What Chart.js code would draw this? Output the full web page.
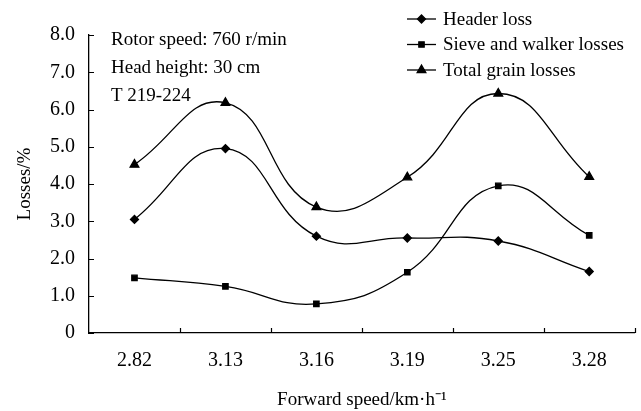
<!DOCTYPE html>
<html>
<head>
<meta charset="utf-8">
<script src="https://cdn.jsdelivr.net/npm/chart.js@4.4.0/dist/chart.umd.min.js"></script>
<style>
  html, body { margin: 0; padding: 0; background: #fff; }
  #wrap { width: 641px; height: 411px; position: relative; }
</style>
</head>
<body>
<div id="wrap"><canvas id="grafica"></canvas></div>
<script>
// datos
var speeds = ['2.82', '3.13', '3.16', '3.19', '3.25', '3.28'];
var headerLoss = [3.05, 4.95, 2.60, 2.55, 2.47, 1.65];
var sieveLoss = [1.48, 1.25, 0.78, 1.63, 3.95, 2.62];
var totalLoss = [4.52, 6.18, 3.38, 4.18, 6.43, 4.19];
var yTicks = [0, 1, 2, 3, 4, 5, 6, 7, 8];
var notes = ['Rotor speed: 760 r/min', 'Head height: 30 cm', 'T 219-224'];

var serif = '"Liberation Serif", "Times New Roman", serif';

function serie(label, data, style, radius) {
  return {
    label: label,
    data: data,
    borderColor: '#000',
    backgroundColor: '#000',
    borderWidth: 1.3,
    tension: 0.45,
    pointStyle: style,
    pointRadius: radius,
    pointHoverRadius: radius
  };
}

// ticks hacia adentro, leyenda y notas
var extras = {
  id: 'extras',
  afterDraw: function(chart) {
    var ctx = chart.ctx;
    var x = chart.scales.x, y = chart.scales.y;
    var area = chart.chartArea;
    ctx.save();
    ctx.strokeStyle = '#000';
    ctx.lineWidth = 1.2;
    ctx.beginPath();
    yTicks.forEach(function(v) {
      var py = Math.round(y.getPixelForValue(v)) + 0.5;
      ctx.moveTo(area.left, py);
      ctx.lineTo(area.left + 5, py);
    });
    for (var i = 1; i <= speeds.length; i++) {
      var px;
      if (i < speeds.length) px = (x.getPixelForValue(i - 1) + x.getPixelForValue(i)) / 2;
      else px = area.right;
      px = Math.round(px) + 0.5;
      ctx.moveTo(px, area.bottom);
      ctx.lineTo(px, area.bottom - 5);
    }
    ctx.stroke();

    // notas
    ctx.fillStyle = '#000';
    ctx.font = '19px ' + serif;
    ctx.textBaseline = 'middle';
    ctx.textAlign = 'left';
    notes.forEach(function(t, k) {
      ctx.fillText(t, 111, 40 + k * 28);
    });

    // leyenda
    chart.data.datasets.forEach(function(ds, k) {
      var ly = 19 + k * 25.5;
      ctx.beginPath();
      ctx.lineWidth = 1.3;
      ctx.moveTo(407, ly);
      ctx.lineTo(436, ly);
      ctx.stroke();
      Chart.helpers.drawPoint(ctx, { pointStyle: ds.pointStyle, radius: ds.pointRadius, borderWidth: 1 }, 421.5, ly);
      ctx.fillText(ds.label, 443, ly + 1);
    });
    ctx.restore();
  }
};

new Chart(document.getElementById('grafica').getContext('2d'), {
  type: 'line',
  data: {
    labels: speeds,
    datasets: [
      serie('Header loss', headerLoss, 'rectRot', 4),
      serie('Sieve and walker losses', sieveLoss, 'rect', 3.8),
      serie('Total grain losses', totalLoss, 'triangle', 5)
    ]
  },
  options: {
    responsive: true,
    maintainAspectRatio: false,
    animation: false,
    layout: { padding: { left: 14, right: 4, top: 35, bottom: 0 } },
    plugins: {
      legend: { display: false },
      tooltip: { enabled: false }
    },
    scales: {
      x: {
        offset: true,
        afterFit: function(s) { s.height = 78; },
        grid: { display: true, drawOnChartArea: false, drawTicks: false, offset: true, color: 'rgba(0,0,0,0)' },
        border: { display: true, color: '#000', width: 1.3 },
        ticks: { color: '#000', padding: 16, font: { family: serif, size: 20 } },
        title: {
          display: true,
          text: 'Forward speed/km·h⁻¹',
          color: '#000',
          font: { family: serif, size: 19 },
          padding: { top: 0, bottom: 0 }
        }
      },
      y: {
        min: 0,
        max: 8,
        afterFit: function(s) { s.width = 75; },
        afterBuildTicks: function(s) { s.ticks = yTicks.map(function(v) { return { value: v }; }); },
        grid: { display: true, drawOnChartArea: false, drawTicks: false, color: 'rgba(0,0,0,0)' },
        border: { display: true, color: '#000', width: 1.3 },
        ticks: {
          color: '#000',
          padding: 14,
          font: { family: serif, size: 20 },
          callback: function(v) { return v === 0 ? '0' : Number(v).toFixed(1); }
        },
        title: {
          display: true,
          text: 'Losses/%',
          color: '#000',
          font: { family: serif, size: 19 },
          padding: { top: 0, bottom: 4 }
        }
      }
    }
  },
  plugins: [extras]
});
</script>
</body>
</html>
